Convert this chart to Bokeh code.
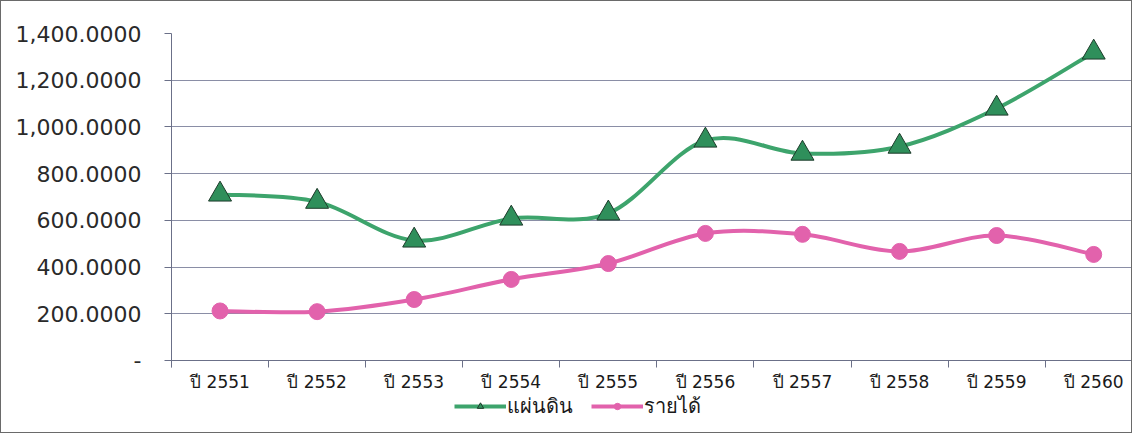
import numpy as np
from bokeh.plotting import figure
from bokeh.models import (FixedTicker, Legend, LegendItem, Range1d, CustomJSTickFormatter)
from bokeh.embed import file_html
from bokeh.resources import INLINE

categories = ["ปี 2551", "ปี 2552", "ปี 2553", "ปี 2554", "ปี 2555",
              "ปี 2556", "ปี 2557", "ปี 2558", "ปี 2559", "ปี 2560"]
paendin = [711, 680, 514, 608, 630, 942, 886, 916, 1079, 1319]
raidai = [212, 209, 261, 347, 415, 544, 540, 467, 535, 454]
y_ticks = [0, 200, 400, 600, 800, 1000, 1200, 1400]

GREEN_LINE = "#3da46c"
GREEN_FILL = "#2f8f5b"
PINK = "#e262ac"
AXIS = "#6b7088"

p = figure(width=1132, height=433, output_backend="svg", toolbar_location=None,
           x_range=Range1d(-0.5, 9.41), y_range=Range1d(-317, 1400),
           min_border_left=170, min_border_right=0, min_border_top=32, min_border_bottom=0,
           background_fill_color="white", border_fill_color="white",
           styles={"border": "1px solid #6a6a6a"})
p.outline_line_color = None

xs = np.arange(len(categories), dtype=float)


def smooth(xv, yv):
    """Bezier segments through the points (Catmull-Rom style, as a smoothed line)."""
    xv = np.asarray(xv, float)
    yv = np.asarray(yv, float)
    n = len(xv)
    segs = dict(x0=[], y0=[], x1=[], y1=[], cx0=[], cy0=[], cx1=[], cy1=[])
    for i in range(n - 1):
        i0 = max(i - 1, 0)
        i3 = min(i + 2, n - 1)
        segs["x0"].append(xv[i]); segs["y0"].append(yv[i])
        segs["x1"].append(xv[i + 1]); segs["y1"].append(yv[i + 1])
        segs["cx0"].append(xv[i] + (xv[i + 1] - xv[i0]) / 6)
        segs["cy0"].append(yv[i] + (yv[i + 1] - yv[i0]) / 6)
        segs["cx1"].append(xv[i + 1] - (xv[i3] - xv[i]) / 6)
        segs["cy1"].append(yv[i + 1] - (yv[i3] - yv[i]) / 6)
    return segs


g = smooth(xs, paendin)
p.bezier(x0=g["x0"], y0=g["y0"], x1=g["x1"], y1=g["y1"], cx0=g["cx0"], cy0=g["cy0"],
         cx1=g["cx1"], cy1=g["cy1"], line_color=GREEN_LINE, line_width=4)
r = smooth(xs, raidai)
p.bezier(x0=r["x0"], y0=r["y0"], x1=r["x1"], y1=r["y1"], cx0=r["cx0"], cy0=r["cy0"],
         cx1=r["cx1"], cy1=r["cy1"], line_color=PINK, line_width=4)

tri = p.scatter(xs, paendin, marker="triangle", size=23, fill_color=GREEN_FILL,
                line_color="#1d3b2a", line_width=1)
cir = p.scatter(xs, raidai, marker="circle", size=16, fill_color=PINK, line_color=PINK)

# legend proxies (drawn outside the visible range)
lg = p.line([0, 1], [-900, -900], line_color=GREEN_LINE, line_width=4)
lgm = p.scatter([0], [-900], marker="triangle", size=10, fill_color=GREEN_FILL,
                line_color="#1d3b2a")
lp = p.line([0, 1], [-900, -900], line_color=PINK, line_width=4)
lpm = p.scatter([0], [-900], marker="circle", size=11, fill_color=PINK, line_color=PINK)

legend = Legend(items=[LegendItem(label="แผ่นดิน", renderers=[lg, lgm]),
                       LegendItem(label="รายได้", renderers=[lp, lpm])],
                orientation="horizontal", location=(283, 12),
                label_text_font="DejaVu Sans", label_text_font_size="20px",
                label_text_color="#1a1a1a", glyph_width=52, glyph_height=16,
                spacing=18, padding=2, margin=0, border_line_color=None,
                background_fill_alpha=0, label_standoff=1)
p.add_layout(legend, "center")

# y axis
p.yaxis.ticker = FixedTicker(ticks=y_ticks)
p.yaxis.bounds = (-30, 1400)
p.yaxis.formatter = CustomJSTickFormatter(code="""
    if (tick == 0) return '-';
    return tick.toLocaleString('en-US', {minimumFractionDigits: 4, maximumFractionDigits: 4});
""")
p.yaxis.major_label_text_font = "DejaVu Sans"
p.yaxis.major_label_text_font_size = "22px"
p.yaxis.major_label_text_color = "#2a2a2a"
p.yaxis.major_tick_in = 0
p.yaxis.major_tick_out = 7
p.yaxis.minor_tick_line_color = None
p.yaxis.major_label_standoff = 23
p.yaxis.axis_line_color = AXIS
p.yaxis.major_tick_line_color = AXIS

# x axis, drawn at y = 0 inside the frame
p.xaxis.fixed_location = 0
p.xaxis.ticker = FixedTicker(ticks=list(range(len(categories))),
                             minor_ticks=[i - 0.5 for i in range(len(categories) + 1)])
p.xaxis.major_label_overrides = {i: c for i, c in enumerate(categories)}
p.xaxis.major_label_text_font = "DejaVu Sans"
p.xaxis.major_label_text_font_size = "17px"
p.xaxis.major_label_text_color = "#1a1a1a"
p.xaxis.major_tick_line_color = None
p.xaxis.major_tick_in = 0
p.xaxis.major_tick_out = 0
p.xaxis.minor_tick_in = 0
p.xaxis.minor_tick_out = 7
p.xaxis.minor_tick_line_color = AXIS
p.xaxis.major_label_standoff = 5
p.xaxis.axis_line_color = AXIS

p.xgrid.grid_line_color = None
p.ygrid.ticker = FixedTicker(ticks=y_ticks)
p.ygrid.grid_line_color = "#8a8ea6"
p.ygrid.grid_line_width = 1

open("out.html", "w").write(file_html(p, INLINE))
